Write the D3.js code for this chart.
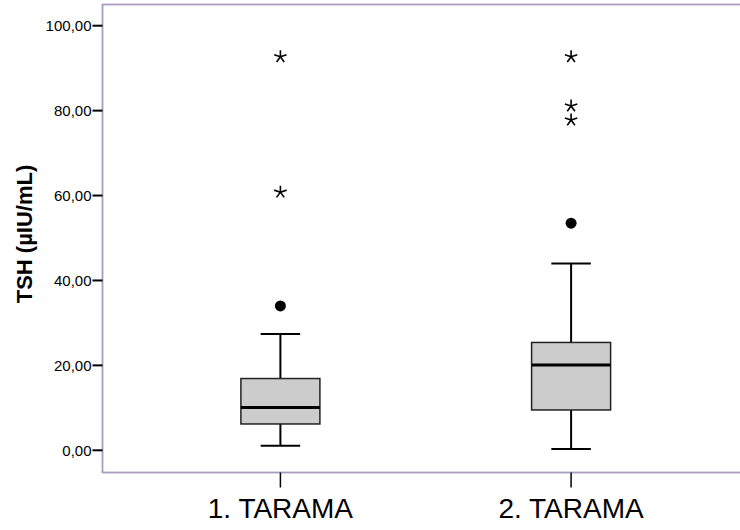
<!DOCTYPE html>
<html>
<head>
<meta charset="utf-8">
<script src="https://cdn.jsdelivr.net/npm/d3@7"></script>
<style>
  body { margin: 0; background: #fff; }
  svg { display: block; font-family: Arial, "Liberation Sans", sans-serif; }
</style>
</head>
<body>
<div id="chart"></div>
<script>
  // boxplot values (TSH, two screenings)
  var categories = ["1. TARAMA", "2. TARAMA"];
  var whiskerLow = [1.1, 0.3];
  var q1 = [6.2, 9.5];
  var median = [10.1, 20.1];
  var q3 = [16.9, 25.4];
  var whiskerHigh = [27.4, 44.0];
  var outliers = [[34.0], [53.5]];
  var extremes = [[92.7, 60.8], [92.7, 81.1, 77.8]];
  var yTicks = [0, 20, 40, 60, 80, 100];

  var width = 740, height = 530;

  var frame = {left: 102.5, top: 4.5, bottom: 472.5, right: 749};

  var svg = d3.select("#chart")
              .append("svg")
              .attr("width", width)
              .attr("height", height);

  var x = d3.scalePoint()
            .domain(categories)
            .range([frame.left, frame.right])
            .padding(0.612);

  var y = d3.scaleLinear()
            .domain([0, 100])
            .range([450.3, 25.7]);

  var boxWidth = 79;

  var locale = d3.formatLocale({decimal: ",", thousands: ".", grouping: [3], currency: ["", ""]});
  var fmt = locale.format(".2f");

  // plot frame
  svg.append("rect")
     .attr("x", frame.left)
     .attr("y", frame.top)
     .attr("width", frame.right - frame.left)
     .attr("height", frame.bottom - frame.top)
     .attr("fill", "none")
     .attr("stroke", "#ab9bc2")
     .attr("stroke-width", 1.8);

  // y axis ticks + labels
  var yAxis = svg.append("g").attr("class", "y-axis");
  yAxis.selectAll("line")
       .data(yTicks)
       .enter()
       .append("line")
       .attr("x1", frame.left - 10)
       .attr("x2", frame.left)
       .attr("y1", function(d) { return y(d); })
       .attr("y2", function(d) { return y(d); })
       .attr("stroke", "#000")
       .attr("stroke-width", 2);

  yAxis.selectAll("text")
       .data(yTicks)
       .enter()
       .append("text")
       .attr("x", frame.left - 11)
       .attr("y", function(d) { return y(d); })
       .attr("dy", "0.36em")
       .attr("text-anchor", "end")
       .attr("font-size", 15)
       .attr("fill", "#000")
       .text(function(d) { return fmt(d); });

  svg.append("text")
     .attr("transform", "translate(32,234) rotate(-90)")
     .attr("text-anchor", "middle")
     .attr("font-size", 22)
     .attr("font-weight", "bold")
     .attr("fill", "#000")
     .text("TSH (\u00b5IU/mL)");

  // x axis ticks + labels
  var xAxis = svg.append("g").attr("class", "x-axis");
  xAxis.selectAll("line")
       .data(categories)
       .enter()
       .append("line")
       .attr("x1", function(d) { return x(d); })
       .attr("x2", function(d) { return x(d); })
       .attr("y1", frame.bottom)
       .attr("y2", frame.bottom + 15)
       .attr("stroke", "#000")
       .attr("stroke-width", 1.5);

  xAxis.selectAll("text")
       .data(categories)
       .enter()
       .append("text")
       .attr("x", function(d) { return x(d); })
       .attr("y", 518)
       .attr("text-anchor", "middle")
       .attr("font-size", 28)
       .attr("fill", "#000")
       .text(function(d) { return d; });

  // boxes
  var boxes = svg.selectAll(".box")
                 .data(categories)
                 .enter()
                 .append("g")
                 .attr("class", "box");

  // whiskers
  boxes.append("line")
       .attr("x1", function(d) { return x(d); })
       .attr("x2", function(d) { return x(d); })
       .attr("y1", function(d, i) { return y(whiskerLow[i]); })
       .attr("y2", function(d, i) { return y(q1[i]); })
       .attr("stroke", "#000")
       .attr("stroke-width", 2);

  boxes.append("line")
       .attr("x1", function(d) { return x(d); })
       .attr("x2", function(d) { return x(d); })
       .attr("y1", function(d, i) { return y(whiskerHigh[i]); })
       .attr("y2", function(d, i) { return y(q3[i]); })
       .attr("stroke", "#000")
       .attr("stroke-width", 2);

  boxes.append("line")
       .attr("x1", function(d) { return x(d) - boxWidth / 4; })
       .attr("x2", function(d) { return x(d) + boxWidth / 4; })
       .attr("y1", function(d, i) { return y(whiskerLow[i]); })
       .attr("y2", function(d, i) { return y(whiskerLow[i]); })
       .attr("stroke", "#000")
       .attr("stroke-width", 2);

  boxes.append("line")
       .attr("x1", function(d) { return x(d) - boxWidth / 4; })
       .attr("x2", function(d) { return x(d) + boxWidth / 4; })
       .attr("y1", function(d, i) { return y(whiskerHigh[i]); })
       .attr("y2", function(d, i) { return y(whiskerHigh[i]); })
       .attr("stroke", "#000")
       .attr("stroke-width", 2);

  boxes.append("rect")
       .attr("x", function(d) { return x(d) - boxWidth / 2; })
       .attr("y", function(d, i) { return y(q3[i]); })
       .attr("width", boxWidth)
       .attr("height", function(d, i) { return y(q1[i]) - y(q3[i]); })
       .attr("fill", "#cccccc")
       .attr("stroke", "#222")
       .attr("stroke-width", 1.5);

  boxes.append("line")
       .attr("x1", function(d) { return x(d) - boxWidth / 2; })
       .attr("x2", function(d) { return x(d) + boxWidth / 2; })
       .attr("y1", function(d, i) { return y(median[i]); })
       .attr("y2", function(d, i) { return y(median[i]); })
       .attr("stroke", "#000")
       .attr("stroke-width", 3);

  // outliers (circles)
  var outPts = [];
  categories.forEach(function(c, i) {
    outliers[i].forEach(function(v) { outPts.push({cat: c, v: v}); });
  });
  svg.selectAll(".outlier")
     .data(outPts)
     .enter()
     .append("circle")
     .attr("class", "outlier")
     .attr("cx", function(d) { return x(d.cat); })
     .attr("cy", function(d) { return y(d.v); })
     .attr("r", 5.5)
     .attr("fill", "#000");

  // extremes (asterisks, five arms)
  var extPts = [];
  categories.forEach(function(c, i) {
    extremes[i].forEach(function(v) { extPts.push({cat: c, v: v}); });
  });
  var arm = 6.5;
  var starPath = "";
  for (var k = 0; k < 5; k++) {
    var a = -Math.PI / 2 + k * 2 * Math.PI / 5;
    starPath += "M0,0L" + (arm * Math.cos(a)).toFixed(2) + "," + (arm * Math.sin(a)).toFixed(2);
  }
  svg.selectAll(".extreme")
     .data(extPts)
     .enter()
     .append("path")
     .attr("class", "extreme")
     .attr("transform", function(d) { return "translate(" + x(d.cat) + "," + y(d.v) + ")"; })
     .attr("d", starPath)
     .attr("stroke", "#000")
     .attr("stroke-width", 1.6)
     .attr("fill", "none");
</script>
</body>
</html>
